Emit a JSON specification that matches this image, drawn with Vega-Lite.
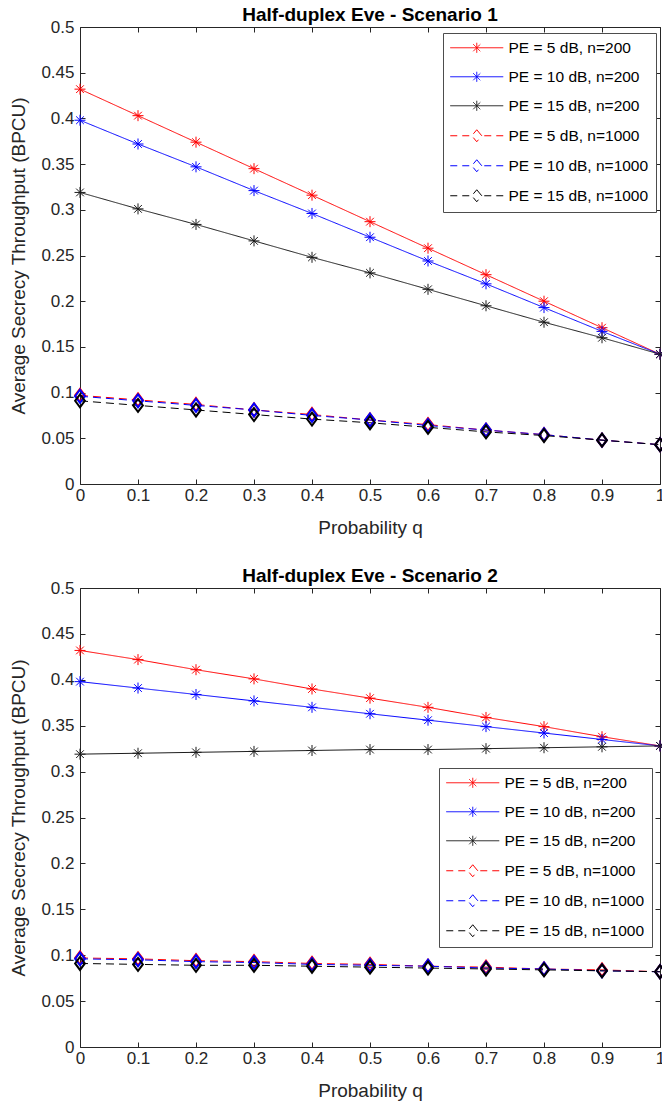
{
  "$schema": "https://vega.github.io/schema/vega-lite/v6.json",
  "padding": {"left": 9, "top": 5, "right": 0, "bottom": 0},
  "spacing": 28,
  "datasets": {
    "s1": [
      {"q":0,"y":0.432,"s":"PE = 5 dB, n=200"},{"q":0.1,"y":0.403,"s":"PE = 5 dB, n=200"},{"q":0.2,"y":0.374,"s":"PE = 5 dB, n=200"},{"q":0.3,"y":0.345,"s":"PE = 5 dB, n=200"},{"q":0.4,"y":0.316,"s":"PE = 5 dB, n=200"},{"q":0.5,"y":0.287,"s":"PE = 5 dB, n=200"},{"q":0.6,"y":0.258,"s":"PE = 5 dB, n=200"},{"q":0.7,"y":0.229,"s":"PE = 5 dB, n=200"},{"q":0.8,"y":0.200,"s":"PE = 5 dB, n=200"},{"q":0.9,"y":0.171,"s":"PE = 5 dB, n=200"},{"q":1,"y":0.142,"s":"PE = 5 dB, n=200"},
      {"q":0,"y":0.398,"s":"PE = 10 dB, n=200"},{"q":0.1,"y":0.372,"s":"PE = 10 dB, n=200"},{"q":0.2,"y":0.347,"s":"PE = 10 dB, n=200"},{"q":0.3,"y":0.321,"s":"PE = 10 dB, n=200"},{"q":0.4,"y":0.296,"s":"PE = 10 dB, n=200"},{"q":0.5,"y":0.270,"s":"PE = 10 dB, n=200"},{"q":0.6,"y":0.244,"s":"PE = 10 dB, n=200"},{"q":0.7,"y":0.219,"s":"PE = 10 dB, n=200"},{"q":0.8,"y":0.193,"s":"PE = 10 dB, n=200"},{"q":0.9,"y":0.167,"s":"PE = 10 dB, n=200"},{"q":1,"y":0.142,"s":"PE = 10 dB, n=200"},
      {"q":0,"y":0.319,"s":"PE = 15 dB, n=200"},{"q":0.1,"y":0.301,"s":"PE = 15 dB, n=200"},{"q":0.2,"y":0.284,"s":"PE = 15 dB, n=200"},{"q":0.3,"y":0.266,"s":"PE = 15 dB, n=200"},{"q":0.4,"y":0.248,"s":"PE = 15 dB, n=200"},{"q":0.5,"y":0.231,"s":"PE = 15 dB, n=200"},{"q":0.6,"y":0.213,"s":"PE = 15 dB, n=200"},{"q":0.7,"y":0.195,"s":"PE = 15 dB, n=200"},{"q":0.8,"y":0.177,"s":"PE = 15 dB, n=200"},{"q":0.9,"y":0.160,"s":"PE = 15 dB, n=200"},{"q":1,"y":0.142,"s":"PE = 15 dB, n=200"},
      {"q":0,"y":0.097,"s":"PE = 5 dB, n=1000"},{"q":0.1,"y":0.092,"s":"PE = 5 dB, n=1000"},{"q":0.2,"y":0.087,"s":"PE = 5 dB, n=1000"},{"q":0.3,"y":0.081,"s":"PE = 5 dB, n=1000"},{"q":0.4,"y":0.076,"s":"PE = 5 dB, n=1000"},{"q":0.5,"y":0.070,"s":"PE = 5 dB, n=1000"},{"q":0.6,"y":0.065,"s":"PE = 5 dB, n=1000"},{"q":0.7,"y":0.059,"s":"PE = 5 dB, n=1000"},{"q":0.8,"y":0.054,"s":"PE = 5 dB, n=1000"},{"q":0.9,"y":0.048,"s":"PE = 5 dB, n=1000"},{"q":1,"y":0.043,"s":"PE = 5 dB, n=1000"},
      {"q":0,"y":0.096,"s":"PE = 10 dB, n=1000"},{"q":0.1,"y":0.091,"s":"PE = 10 dB, n=1000"},{"q":0.2,"y":0.086,"s":"PE = 10 dB, n=1000"},{"q":0.3,"y":0.081,"s":"PE = 10 dB, n=1000"},{"q":0.4,"y":0.075,"s":"PE = 10 dB, n=1000"},{"q":0.5,"y":0.070,"s":"PE = 10 dB, n=1000"},{"q":0.6,"y":0.064,"s":"PE = 10 dB, n=1000"},{"q":0.7,"y":0.059,"s":"PE = 10 dB, n=1000"},{"q":0.8,"y":0.054,"s":"PE = 10 dB, n=1000"},{"q":0.9,"y":0.048,"s":"PE = 10 dB, n=1000"},{"q":1,"y":0.043,"s":"PE = 10 dB, n=1000"},
      {"q":0,"y":0.091,"s":"PE = 15 dB, n=1000"},{"q":0.1,"y":0.086,"s":"PE = 15 dB, n=1000"},{"q":0.2,"y":0.081,"s":"PE = 15 dB, n=1000"},{"q":0.3,"y":0.076,"s":"PE = 15 dB, n=1000"},{"q":0.4,"y":0.071,"s":"PE = 15 dB, n=1000"},{"q":0.5,"y":0.067,"s":"PE = 15 dB, n=1000"},{"q":0.6,"y":0.062,"s":"PE = 15 dB, n=1000"},{"q":0.7,"y":0.057,"s":"PE = 15 dB, n=1000"},{"q":0.8,"y":0.053,"s":"PE = 15 dB, n=1000"},{"q":0.9,"y":0.048,"s":"PE = 15 dB, n=1000"},{"q":1,"y":0.043,"s":"PE = 15 dB, n=1000"}
    ],
    "s2": [
      {"q":0,"y":0.432,"s":"PE = 5 dB, n=200"},{"q":0.1,"y":0.422,"s":"PE = 5 dB, n=200"},{"q":0.2,"y":0.411,"s":"PE = 5 dB, n=200"},{"q":0.3,"y":0.401,"s":"PE = 5 dB, n=200"},{"q":0.4,"y":0.390,"s":"PE = 5 dB, n=200"},{"q":0.5,"y":0.380,"s":"PE = 5 dB, n=200"},{"q":0.6,"y":0.370,"s":"PE = 5 dB, n=200"},{"q":0.7,"y":0.359,"s":"PE = 5 dB, n=200"},{"q":0.8,"y":0.349,"s":"PE = 5 dB, n=200"},{"q":0.9,"y":0.338,"s":"PE = 5 dB, n=200"},{"q":1,"y":0.328,"s":"PE = 5 dB, n=200"},
      {"q":0,"y":0.398,"s":"PE = 10 dB, n=200"},{"q":0.1,"y":0.391,"s":"PE = 10 dB, n=200"},{"q":0.2,"y":0.384,"s":"PE = 10 dB, n=200"},{"q":0.3,"y":0.377,"s":"PE = 10 dB, n=200"},{"q":0.4,"y":0.370,"s":"PE = 10 dB, n=200"},{"q":0.5,"y":0.363,"s":"PE = 10 dB, n=200"},{"q":0.6,"y":0.356,"s":"PE = 10 dB, n=200"},{"q":0.7,"y":0.349,"s":"PE = 10 dB, n=200"},{"q":0.8,"y":0.342,"s":"PE = 10 dB, n=200"},{"q":0.9,"y":0.335,"s":"PE = 10 dB, n=200"},{"q":1,"y":0.328,"s":"PE = 10 dB, n=200"},
      {"q":0,"y":0.319,"s":"PE = 15 dB, n=200"},{"q":0.1,"y":0.320,"s":"PE = 15 dB, n=200"},{"q":0.2,"y":0.321,"s":"PE = 15 dB, n=200"},{"q":0.3,"y":0.322,"s":"PE = 15 dB, n=200"},{"q":0.4,"y":0.323,"s":"PE = 15 dB, n=200"},{"q":0.5,"y":0.324,"s":"PE = 15 dB, n=200"},{"q":0.6,"y":0.324,"s":"PE = 15 dB, n=200"},{"q":0.7,"y":0.325,"s":"PE = 15 dB, n=200"},{"q":0.8,"y":0.326,"s":"PE = 15 dB, n=200"},{"q":0.9,"y":0.327,"s":"PE = 15 dB, n=200"},{"q":1,"y":0.328,"s":"PE = 15 dB, n=200"},
      {"q":0,"y":0.097,"s":"PE = 5 dB, n=1000"},{"q":0.1,"y":0.096,"s":"PE = 5 dB, n=1000"},{"q":0.2,"y":0.094,"s":"PE = 5 dB, n=1000"},{"q":0.3,"y":0.093,"s":"PE = 5 dB, n=1000"},{"q":0.4,"y":0.091,"s":"PE = 5 dB, n=1000"},{"q":0.5,"y":0.090,"s":"PE = 5 dB, n=1000"},{"q":0.6,"y":0.088,"s":"PE = 5 dB, n=1000"},{"q":0.7,"y":0.087,"s":"PE = 5 dB, n=1000"},{"q":0.8,"y":0.085,"s":"PE = 5 dB, n=1000"},{"q":0.9,"y":0.084,"s":"PE = 5 dB, n=1000"},{"q":1,"y":0.082,"s":"PE = 5 dB, n=1000"},
      {"q":0,"y":0.096,"s":"PE = 10 dB, n=1000"},{"q":0.1,"y":0.095,"s":"PE = 10 dB, n=1000"},{"q":0.2,"y":0.093,"s":"PE = 10 dB, n=1000"},{"q":0.3,"y":0.092,"s":"PE = 10 dB, n=1000"},{"q":0.4,"y":0.090,"s":"PE = 10 dB, n=1000"},{"q":0.5,"y":0.089,"s":"PE = 10 dB, n=1000"},{"q":0.6,"y":0.088,"s":"PE = 10 dB, n=1000"},{"q":0.7,"y":0.086,"s":"PE = 10 dB, n=1000"},{"q":0.8,"y":0.085,"s":"PE = 10 dB, n=1000"},{"q":0.9,"y":0.083,"s":"PE = 10 dB, n=1000"},{"q":1,"y":0.082,"s":"PE = 10 dB, n=1000"},
      {"q":0,"y":0.091,"s":"PE = 15 dB, n=1000"},{"q":0.1,"y":0.090,"s":"PE = 15 dB, n=1000"},{"q":0.2,"y":0.089,"s":"PE = 15 dB, n=1000"},{"q":0.3,"y":0.089,"s":"PE = 15 dB, n=1000"},{"q":0.4,"y":0.088,"s":"PE = 15 dB, n=1000"},{"q":0.5,"y":0.087,"s":"PE = 15 dB, n=1000"},{"q":0.6,"y":0.086,"s":"PE = 15 dB, n=1000"},{"q":0.7,"y":0.085,"s":"PE = 15 dB, n=1000"},{"q":0.8,"y":0.084,"s":"PE = 15 dB, n=1000"},{"q":0.9,"y":0.083,"s":"PE = 15 dB, n=1000"},{"q":1,"y":0.082,"s":"PE = 15 dB, n=1000"}
    ]
  },
  "resolve": {
    "scale": {"color": "independent", "shape": "independent", "strokeDash": "independent", "strokeWidth": "independent"},
    "legend": {"color": "independent", "shape": "independent", "strokeDash": "independent", "strokeWidth": "independent"}
  },
  "vconcat": [
    {
      "title": {"text": "Half-duplex Eve - Scenario 1", "frame": "group"},
      "width": 580,
      "height": 457,
      "data": {"name": "s1"},
      "resolve": {"axis": {"x": "independent", "y": "independent"}},
      "layer": [
        {
          "mark": {"type": "line", "clip": false},
          "encoding": {
            "x": {"field": "q", "type": "quantitative", "scale": {"domain": [0, 1], "nice": false}, "axis": {"orient": "bottom", "title": "Probability q", "values": [0,0.1,0.2,0.3,0.4,0.5,0.6,0.7,0.8,0.9,1]}},
            "y": {"field": "y", "type": "quantitative", "scale": {"domain": [0, 0.5], "nice": false}, "axis": {"orient": "left", "title": "Average Secrecy Throughput (BPCU)", "values": [0,0.05,0.1,0.15,0.2,0.25,0.3,0.35,0.4,0.45,0.5]}},
            "color": {"field": "s", "type": "nominal", "scale": {"domain": ["PE = 5 dB, n=200","PE = 10 dB, n=200","PE = 15 dB, n=200","PE = 5 dB, n=1000","PE = 10 dB, n=1000","PE = 15 dB, n=1000"], "range": ["#ff0000","#0000ff","#1a1a1a","#ff0000","#0000ff","#000000"]}, "legend": {"orient": "none", "legendX": 363, "legendY": 6}},
            "strokeDash": {"field": "s", "type": "nominal", "legend": null, "scale": {"domain": ["PE = 5 dB, n=200","PE = 10 dB, n=200","PE = 15 dB, n=200","PE = 5 dB, n=1000","PE = 10 dB, n=1000","PE = 15 dB, n=1000"], "range": [[1,0],[1,0],[1,0],[8,5],[8,5],[8,5]]}},
            "strokeWidth": {"field": "s", "type": "nominal", "legend": null, "scale": {"domain": ["PE = 5 dB, n=200","PE = 10 dB, n=200","PE = 15 dB, n=200","PE = 5 dB, n=1000","PE = 10 dB, n=1000","PE = 15 dB, n=1000"], "range": [1,1,1,2,2,2]}}
          }
        },
        {
          "transform": [{"filter": "indexof(datum.s, 'n=200') >= 0"}],
          "mark": {"type": "point", "filled": false, "clip": false, "shape": "M0,-1L0,1M-1,0L1,0M-0.7,-0.7L0.7,0.7M-0.7,0.7L0.7,-0.7", "size": 121, "strokeWidth": 1, "opacity": 1},
          "encoding": {
            "x": {"field": "q", "type": "quantitative", "axis": null},
            "y": {"field": "y", "type": "quantitative", "axis": null},
            "color": {"field": "s", "type": "nominal"}
          }
        },
        {
          "transform": [{"filter": "indexof(datum.s, 'n=1000') >= 0"}],
          "mark": {"type": "point", "filled": false, "clip": false, "shape": "M0,-1L0.75,0L0,1L-0.75,0Z", "size": 169, "strokeWidth": 2, "opacity": 1},
          "encoding": {
            "x": {"field": "q", "type": "quantitative", "axis": null},
            "y": {"field": "y", "type": "quantitative", "axis": null},
            "color": {"field": "s", "type": "nominal"}
          }
        },
        {
          "transform": [{"filter": "datum.q < 0"}],
          "mark": {"type": "point", "filled": false, "opacity": 1},
          "encoding": {
            "x": {"field": "q", "type": "quantitative", "axis": null},
            "y": {"field": "y", "type": "quantitative", "axis": null},
            "color": {"field": "s", "type": "nominal"},
            "shape": {"field": "s", "type": "nominal", "legend": {"orient": "none", "legendX": 363, "legendY": 6},
              "scale": {"domain": ["PE = 5 dB, n=200","PE = 10 dB, n=200","PE = 15 dB, n=200","PE = 5 dB, n=1000","PE = 10 dB, n=1000","PE = 15 dB, n=1000"], "range": ["M-5.3,0L5.3,0M0,-1L0,1M-0.7,-0.7L0.7,0.7M-0.7,0.7L0.7,-0.7","M-5.3,0L5.3,0M0,-1L0,1M-0.7,-0.7L0.7,0.7M-0.7,0.7L0.7,-0.7","M-5.3,0L5.3,0M0,-1L0,1M-0.7,-0.7L0.7,0.7M-0.7,0.7L0.7,-0.7","M-5.3,0L-3.9,0M-2.9,0L-1.5,0M0,-1.2L1,0L0,1.2L-1,0ZM1.5,0L2.9,0M3.9,0L5.3,0","M-5.3,0L-3.9,0M-2.9,0L-1.5,0M0,-1.2L1,0L0,1.2L-1,0ZM1.5,0L2.9,0M3.9,0L5.3,0","M-5.3,0L-3.9,0M-2.9,0L-1.5,0M0,-1.2L1,0L0,1.2L-1,0ZM1.5,0L2.9,0M3.9,0L5.3,0"]}}
          }
        },
        {
          "mark": {"type": "point", "opacity": 0},
          "encoding": {
            "x": {"field": "q", "type": "quantitative", "axis": {"orient": "top", "labels": false, "title": null, "labelPadding": 0, "values": [0,0.1,0.2,0.3,0.4,0.5,0.6,0.7,0.8,0.9,1]}},
            "y": {"field": "y", "type": "quantitative", "axis": {"orient": "right", "labels": false, "title": null, "labelPadding": 0, "values": [0,0.05,0.1,0.15,0.2,0.25,0.3,0.35,0.4,0.45,0.5]}}
          }
        }
      ]
    },
    {
      "title": {"text": "Half-duplex Eve - Scenario 2", "frame": "group"},
      "width": 580,
      "height": 459,
      "data": {"name": "s2"},
      "resolve": {"axis": {"x": "independent", "y": "independent"}},
      "layer": [
        {
          "mark": {"type": "line", "clip": false},
          "encoding": {
            "x": {"field": "q", "type": "quantitative", "scale": {"domain": [0, 1], "nice": false}, "axis": {"orient": "bottom", "title": "Probability q", "values": [0,0.1,0.2,0.3,0.4,0.5,0.6,0.7,0.8,0.9,1]}},
            "y": {"field": "y", "type": "quantitative", "scale": {"domain": [0, 0.5], "nice": false}, "axis": {"orient": "left", "title": "Average Secrecy Throughput (BPCU)", "values": [0,0.05,0.1,0.15,0.2,0.25,0.3,0.35,0.4,0.45,0.5]}},
            "color": {"field": "s", "type": "nominal", "scale": {"domain": ["PE = 5 dB, n=200","PE = 10 dB, n=200","PE = 15 dB, n=200","PE = 5 dB, n=1000","PE = 10 dB, n=1000","PE = 15 dB, n=1000"], "range": ["#ff0000","#0000ff","#1a1a1a","#ff0000","#0000ff","#000000"]}, "legend": {"orient": "none", "legendX": 359, "legendY": 180}},
            "strokeDash": {"field": "s", "type": "nominal", "legend": null, "scale": {"domain": ["PE = 5 dB, n=200","PE = 10 dB, n=200","PE = 15 dB, n=200","PE = 5 dB, n=1000","PE = 10 dB, n=1000","PE = 15 dB, n=1000"], "range": [[1,0],[1,0],[1,0],[8,5],[8,5],[8,5]]}},
            "strokeWidth": {"field": "s", "type": "nominal", "legend": null, "scale": {"domain": ["PE = 5 dB, n=200","PE = 10 dB, n=200","PE = 15 dB, n=200","PE = 5 dB, n=1000","PE = 10 dB, n=1000","PE = 15 dB, n=1000"], "range": [1,1,1,2,2,2]}}
          }
        },
        {
          "transform": [{"filter": "indexof(datum.s, 'n=200') >= 0"}],
          "mark": {"type": "point", "filled": false, "clip": false, "shape": "M0,-1L0,1M-1,0L1,0M-0.7,-0.7L0.7,0.7M-0.7,0.7L0.7,-0.7", "size": 121, "strokeWidth": 1, "opacity": 1},
          "encoding": {
            "x": {"field": "q", "type": "quantitative", "axis": null},
            "y": {"field": "y", "type": "quantitative", "axis": null},
            "color": {"field": "s", "type": "nominal"}
          }
        },
        {
          "transform": [{"filter": "indexof(datum.s, 'n=1000') >= 0"}],
          "mark": {"type": "point", "filled": false, "clip": false, "shape": "M0,-1L0.75,0L0,1L-0.75,0Z", "size": 169, "strokeWidth": 2, "opacity": 1},
          "encoding": {
            "x": {"field": "q", "type": "quantitative", "axis": null},
            "y": {"field": "y", "type": "quantitative", "axis": null},
            "color": {"field": "s", "type": "nominal"}
          }
        },
        {
          "transform": [{"filter": "datum.q < 0"}],
          "mark": {"type": "point", "filled": false, "opacity": 1},
          "encoding": {
            "x": {"field": "q", "type": "quantitative", "axis": null},
            "y": {"field": "y", "type": "quantitative", "axis": null},
            "color": {"field": "s", "type": "nominal"},
            "shape": {"field": "s", "type": "nominal", "legend": {"orient": "none", "legendX": 359, "legendY": 180},
              "scale": {"domain": ["PE = 5 dB, n=200","PE = 10 dB, n=200","PE = 15 dB, n=200","PE = 5 dB, n=1000","PE = 10 dB, n=1000","PE = 15 dB, n=1000"], "range": ["M-5.3,0L5.3,0M0,-1L0,1M-0.7,-0.7L0.7,0.7M-0.7,0.7L0.7,-0.7","M-5.3,0L5.3,0M0,-1L0,1M-0.7,-0.7L0.7,0.7M-0.7,0.7L0.7,-0.7","M-5.3,0L5.3,0M0,-1L0,1M-0.7,-0.7L0.7,0.7M-0.7,0.7L0.7,-0.7","M-5.3,0L-3.9,0M-2.9,0L-1.5,0M0,-1.2L1,0L0,1.2L-1,0ZM1.5,0L2.9,0M3.9,0L5.3,0","M-5.3,0L-3.9,0M-2.9,0L-1.5,0M0,-1.2L1,0L0,1.2L-1,0ZM1.5,0L2.9,0M3.9,0L5.3,0","M-5.3,0L-3.9,0M-2.9,0L-1.5,0M0,-1.2L1,0L0,1.2L-1,0ZM1.5,0L2.9,0M3.9,0L5.3,0"]}}
          }
        },
        {
          "mark": {"type": "point", "opacity": 0},
          "encoding": {
            "x": {"field": "q", "type": "quantitative", "axis": {"orient": "top", "labels": false, "title": null, "labelPadding": 0, "values": [0,0.1,0.2,0.3,0.4,0.5,0.6,0.7,0.8,0.9,1]}},
            "y": {"field": "y", "type": "quantitative", "axis": {"orient": "right", "labels": false, "title": null, "labelPadding": 0, "values": [0,0.05,0.1,0.15,0.2,0.25,0.3,0.35,0.4,0.45,0.5]}}
          }
        }
      ]
    }
  ],
  "config": {
    "font": "Liberation Sans",
    "view": {"stroke": "#262626", "strokeWidth": 1},
    "title": {"fontSize": 19, "fontWeight": "bold", "color": "#000000", "offset": -7},
    "axis": {
      "domain": false,
      "grid": false,
      "format": "~g",
      "labelFlush": false,
      "tickSize": -5,
      "tickColor": "#262626",
      "tickWidth": 1,
      "labelFontSize": 17,
      "labelColor": "#262626",
      "labelFont": "Liberation Sans",
      "titleFont": "Liberation Sans",
      "titleFontSize": 19,
      "titleFontWeight": "normal",
      "titleColor": "#262626"
    },
    "axisLeft": {"titlePadding": 12, "labelPadding": 11},
    "axisBottom": {"titlePadding": 15, "labelPadding": 8},
    "legend": {
      "padding": 7,
      "strokeColor": "#4d4d4d",
      "fillColor": "#ffffff",
      "labelFontSize": 15.5,
      "labelColor": "#000000",
      "labelFont": "Liberation Sans",
      "rowPadding": 12,
      "symbolSize": 100,
      "symbolOffset": 19,
      "labelOffset": 24,
      "title": null,
      "symbolStrokeWidth": 1.3
    }
  }
}
